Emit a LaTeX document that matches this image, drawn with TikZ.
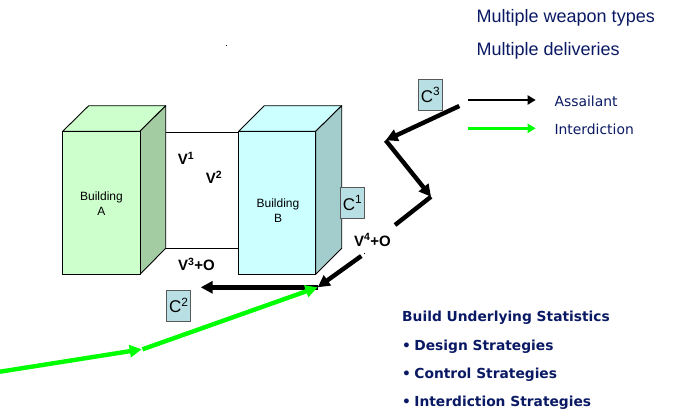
\documentclass[tikz,border=0pt]{standalone}
\usepackage{fontspec}
\setmainfont{Liberation Sans}
\newfontfamily\verd{DejaVu Sans}
\usetikzlibrary{arrows.meta}
\definecolor{navytext}{RGB}{10,25,100}
\definecolor{greenfront}{RGB}{204,255,204}
\definecolor{greenside}{RGB}{163,204,163}
\definecolor{cyanfront}{RGB}{204,255,255}
\definecolor{cyanside}{RGB}{163,204,204}
\definecolor{tagfill}{RGB}{184,224,228}
\definecolor{vivid}{RGB}{0,255,0}
\tikzset{
  x=1pt,y=-1pt,
  face/.style={draw=black,line width=0.9pt,line join=round},
  tagbox/.style={draw=black!65,fill=tagfill,line width=0.9pt,minimum width=24pt,minimum height=31pt,inner sep=0pt,font=\fontsize{17}{20}\selectfont},
  buildlabel/.style={align=center,font=\fontsize{12}{15}\selectfont,inner sep=0pt},
  vlabel/.style={font=\fontsize{15}{16}\selectfont\bfseries,inner sep=0pt},
  legendtext/.style={anchor=west,text=navytext,inner sep=0pt,font=\verd\fontsize{13.9}{15}\selectfont},
  toptext/.style={anchor=west,text=navytext,inner sep=0pt,font=\fontsize{18}{20}\selectfont},
  stattext/.style={anchor=west,text=navytext,inner sep=0pt,font=\verd\fontsize{13.8}{15}\selectfont\bfseries},
  heavy/.style={line width=4.4pt,-{Triangle[length=12pt,width=12pt]}},
  heavyplain/.style={line width=4.4pt},
  thinarrow/.style={line width=2.8pt,-{Triangle[length=8pt,width=9pt]}},
}
\newcommand{\statbullet}{•\hspace{-1.4pt} }
\begin{document}
\begin{tikzpicture}
\useasboundingbox (0,0) rectangle (700,418);
% corridor
\draw[line width=0.9pt] (165.7,132) -- (238.7,132);
\draw[line width=0.9pt] (165.7,248.5) -- (238.7,248.5);
% Building A
\filldraw[face,fill=greenfront] (62.7,131.3) -- (88.7,105.7) -- (165.7,105.7) -- (140,131.3) -- cycle;
\filldraw[face,fill=greenside] (140,131.3) -- (165.7,105.7) -- (165.7,248.3) -- (140,274.3) -- cycle;
\filldraw[face,fill=greenfront] (62.7,131.3) rectangle (140,274.3);
\node[buildlabel] (labA) at (101.5,203.5) {Building\\A};
% Building B
\filldraw[face,fill=cyanfront] (238.7,131.3) -- (264.3,105.7) -- (341.7,105.7) -- (315.7,131.3) -- cycle;
\filldraw[face,fill=cyanside] (315.7,131.3) -- (341.7,105.7) -- (341.7,248.3) -- (315.7,274.3) -- cycle;
\filldraw[face,fill=cyanfront] (238.7,131.3) rectangle (315.7,274.3);
\node[buildlabel] (labB) at (278,210.5) {Building\\B};
% tags
\node[tagbox] (c1) at (352.5,203) {C\textsuperscript{1}};
\node[tagbox] (c2) at (178.8,305.5) {C\textsuperscript{2}};
\node[tagbox] (c3) at (430.5,95) {C\textsuperscript{3}};
% vulnerability labels
\node[vlabel] (v1) at (186,158) {V\textsuperscript{1}};
\node[vlabel] (v2) at (214,177.5) {V\textsuperscript{2}};
\node[vlabel] (v3) at (196.5,264.5) {V\textsuperscript{3}+O};
\node[vlabel] (v4) at (372.5,240) {V\textsuperscript{4}+O};
% route points
\coordinate (a0) at (459.3,106);
\coordinate (a1) at (385.7,140.3);
\coordinate (a2) at (431,196.7);
\coordinate (a3) at (395,225);
\coordinate (a4) at (361.3,256);
\coordinate (a5) at (317.7,287.3);
\coordinate (a6) at (200.7,287.3);
\coordinate (g0) at (0,371.7);
\coordinate (g1) at (141.7,349.3);
\coordinate (g2) at (142.5,349.3);
\coordinate (g3) at (317.5,287.3);
% assailant route
\draw[heavy] (a0) -- (a1);
\draw[heavy] (a1) -- (a2);
\draw[heavyplain] (a2) -- (a3);
\draw[heavy] (a4) -- (a5);
\draw[heavy] (a5) -- (a6);
% interdiction route
\draw[heavy,vivid] (g0) -- (g1);
\draw[heavy,vivid] (g2) -- (g3);
% legend
\node[legendtext] (assail) at (554.3,101.5) {Assailant};
\node[legendtext] (inter) at (554.3,129.8) {Interdiction};
\coordinate (l1a) at (468,100);
\coordinate (l1b) at (535.7,100);
\coordinate (l2a) at (468,128.3);
\coordinate (l2b) at (535.7,128.3);
\draw[thinarrow] (l1a) -- (l1b);
\draw[thinarrow,vivid] (l2a) -- (l2b);
% texts
\node[toptext] (t1) at (476.5,18) {Multiple weapon types};
\node[toptext] (t2) at (476.5,50.7) {Multiple deliveries};
\node[stattext] (s0) at (402,318) {Build Underlying Statistics};
\node[stattext] (s1) at (402,346.5) {\statbullet Design Strategies};
\node[stattext] (s2) at (402,374.5) {\statbullet Control Strategies};
\node[stattext] (s3) at (402,403) {\statbullet Interdiction Strategies};
% specks
\fill (225.5,44.5) rectangle (226.7,45.7);
\fill (363.5,253) rectangle (365,254);
\end{tikzpicture}
\end{document}
